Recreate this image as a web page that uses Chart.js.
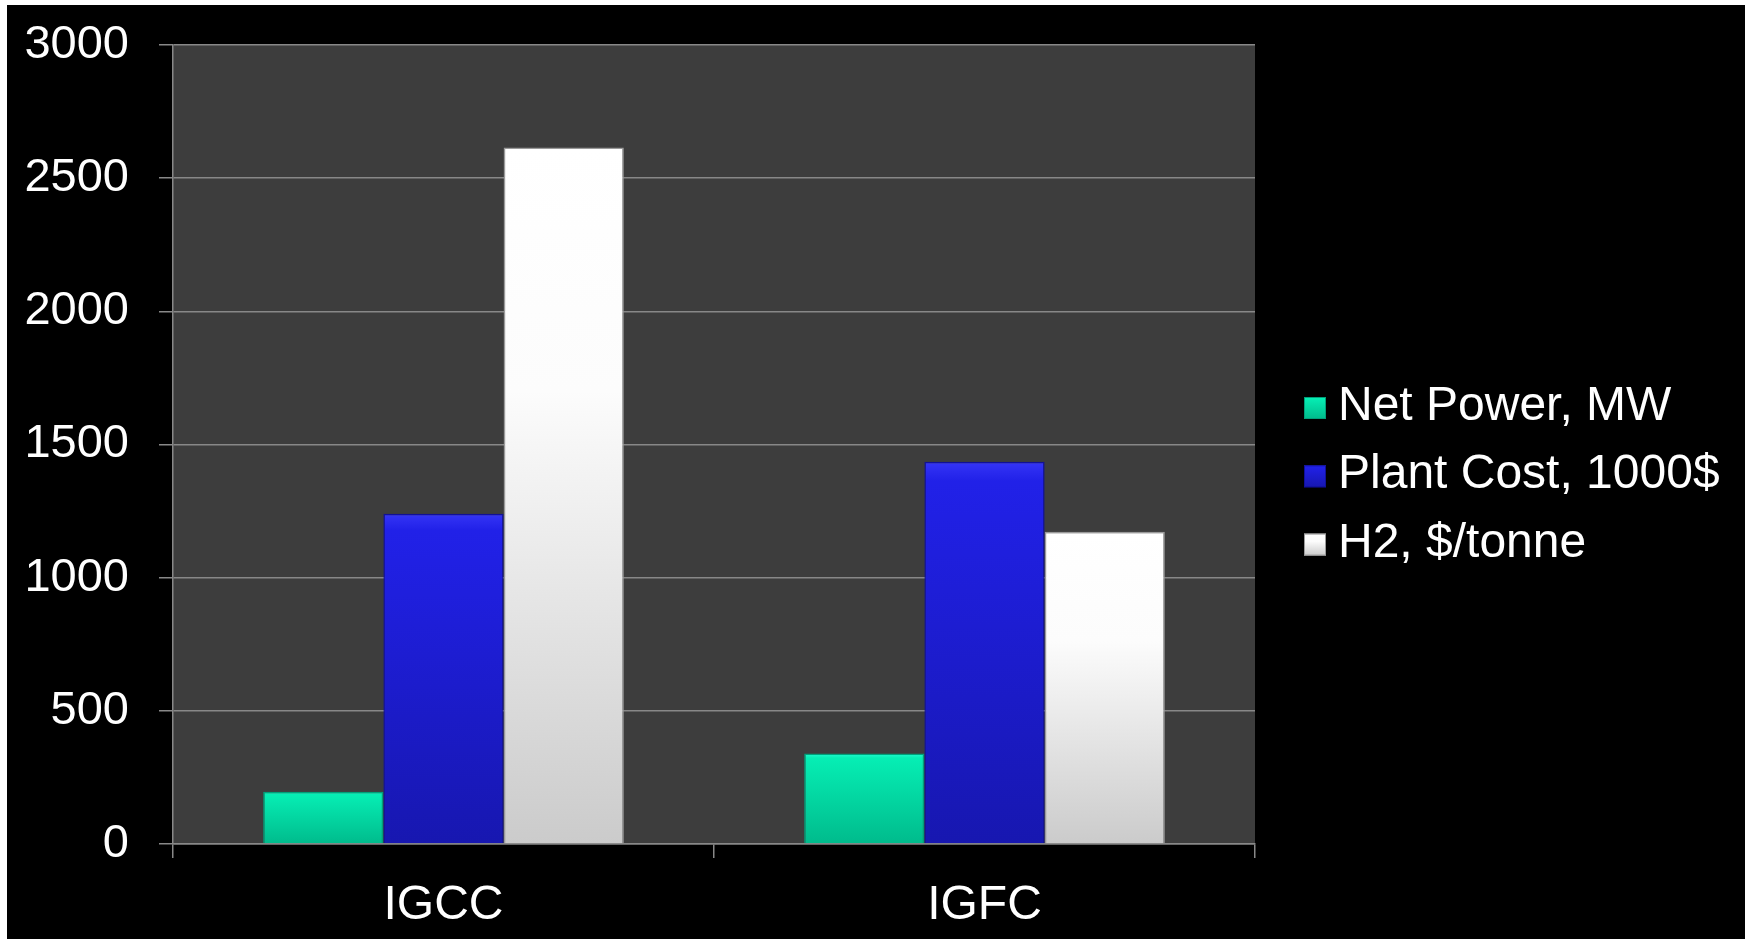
<!DOCTYPE html>
<html><head><meta charset="utf-8">
<script src="https://cdn.jsdelivr.net/npm/chart.js@4.4.1/dist/chart.umd.min.js"></script>
<style>
html,body{margin:0;padding:0;background:#fff;}
#wrap{position:absolute;left:7px;top:5px;width:1738px;height:934px;background:#000;}
canvas{display:block;}
</style></head><body>
<div id="wrap"><canvas id="c" width="1738" height="934"></canvas></div>
<script>
const categories = ['IGCC', 'IGFC'];
const seriesNames = ['Net Power, MW', 'Plant Cost, 1000$', 'H2, $/tonne'];
const netPower = [196, 340];
const plantCost = [1240, 1435];
const h2Price = [2615, 1172];
const yTicks = [0, 500, 1000, 1500, 2000, 2500, 3000];
const yTickLabels = ['0', '500', '1000', '1500', '2000', '2500', '3000'];

const palettes = [
  {stops: [[0, '#24fad0'], [0.05, '#06eeb4'], [1, '#00bb8c']], border: '#00a07a'},
  {stops: [[0, '#3535f6'], [0.05, '#2121e8'], [1, '#1717b0']], border: '#10109a'},
  {stops: [[0, '#ffffff'], [0.35, '#fcfcfc'], [1, '#cbcbcb']], border: '#9a9a9a'}
];
function grad(ctx, top, bottom, stops) {
  const g = ctx.createLinearGradient(0, top, 0, bottom);
  stops.forEach(s => g.addColorStop(s[0], s[1]));
  return g;
}
function barFill(i) {
  return (c) => {
    const chart = c.chart, area = chart.chartArea;
    if (!area || c.raw === undefined || !chart.scales.y) return palettes[i].stops[1][1];
    const top = chart.scales.y.getPixelForValue(c.raw);
    return grad(chart.ctx, top, area.bottom, palettes[i].stops);
  };
}

const plotBg = {
  id: 'plotBg',
  beforeDraw(chart) {
    const {ctx, chartArea: a} = chart;
    ctx.save();
    ctx.fillStyle = '#3d3d3d';
    ctx.fillRect(a.left, a.top, a.right - a.left, a.bottom - a.top);
    ctx.restore();
  }
};

const sideLegend = {
  id: 'sideLegend',
  afterDraw(chart) {
    const ctx = chart.ctx;
    ctx.save();
    ctx.font = '48px "Liberation Sans", Arial, sans-serif';
    ctx.textBaseline = 'alphabetic';
    ctx.textAlign = 'left';
    chart.data.datasets.forEach((ds, i) => {
      const base = 415 + i * 68.3;
      const bx = 1297, by = base - 23, bw = 22, bh = 22;
      ctx.fillStyle = grad(ctx, by, by + bh, palettes[i].stops);
      ctx.fillRect(bx, by, bw, bh);
      ctx.strokeStyle = palettes[i].border;
      ctx.lineWidth = 1;
      ctx.strokeRect(bx + 0.5, by + 0.5, bw - 1, bh - 1);
      ctx.fillStyle = '#ffffff';
      ctx.fillText(ds.label, 1331, base);
    });
    ctx.restore();
  }
};

Chart.defaults.font.family = '"Liberation Sans", Arial, sans-serif';
Chart.defaults.color = '#ffffff';

const seriesValues = [netPower, plantCost, h2Price];

new Chart(document.getElementById('c'), {
  type: 'bar',
  data: {
    labels: categories,
    datasets: seriesValues.map((vals, i) => ({
      label: seriesNames[i],
      data: vals,
      backgroundColor: barFill(i),
      borderColor: palettes[i].border,
      borderWidth: 1.5
    }))
  },
  plugins: [plotBg, sideLegend],
  options: {
    responsive: false,
    animation: false,
    layout: {padding: {top: 40, right: 490, bottom: 0, left: 0}},
    plugins: {legend: {display: false}, tooltip: {enabled: false}},
    datasets: {bar: {categoryPercentage: 2 / 3, barPercentage: 1}},
    scales: {
      x: {
        grid: {display: true, drawOnChartArea: false, drawTicks: true, tickLength: 14, color: '#888888', lineWidth: 1.5, offset: true},
        border: {display: true, color: '#888888', width: 1.5},
        ticks: {font: {size: 48}, color: '#ffffff', padding: 19},
        afterFit(s) { s.height = 95; s.paddingLeft = 0; s.paddingRight = 0; }
      },
      y: {
        min: 0, max: 3000,
        afterBuildTicks(s) { s.ticks = yTicks.map(v => ({value: v})); },
        ticks: {
          font: {size: 47}, color: '#ffffff', padding: 30,
          callback(value) { const k = yTicks.indexOf(value); return k >= 0 ? yTickLabels[k] : String(value); }
        },
        grid: {color: '#888888', lineWidth: 1.5, tickLength: 14},
        border: {color: '#888888', width: 1.5},
        afterFit(s) { s.width = 166; s.paddingTop = 0; s.paddingBottom = 0; }
      }
    }
  }
});
</script>
</body></html>
